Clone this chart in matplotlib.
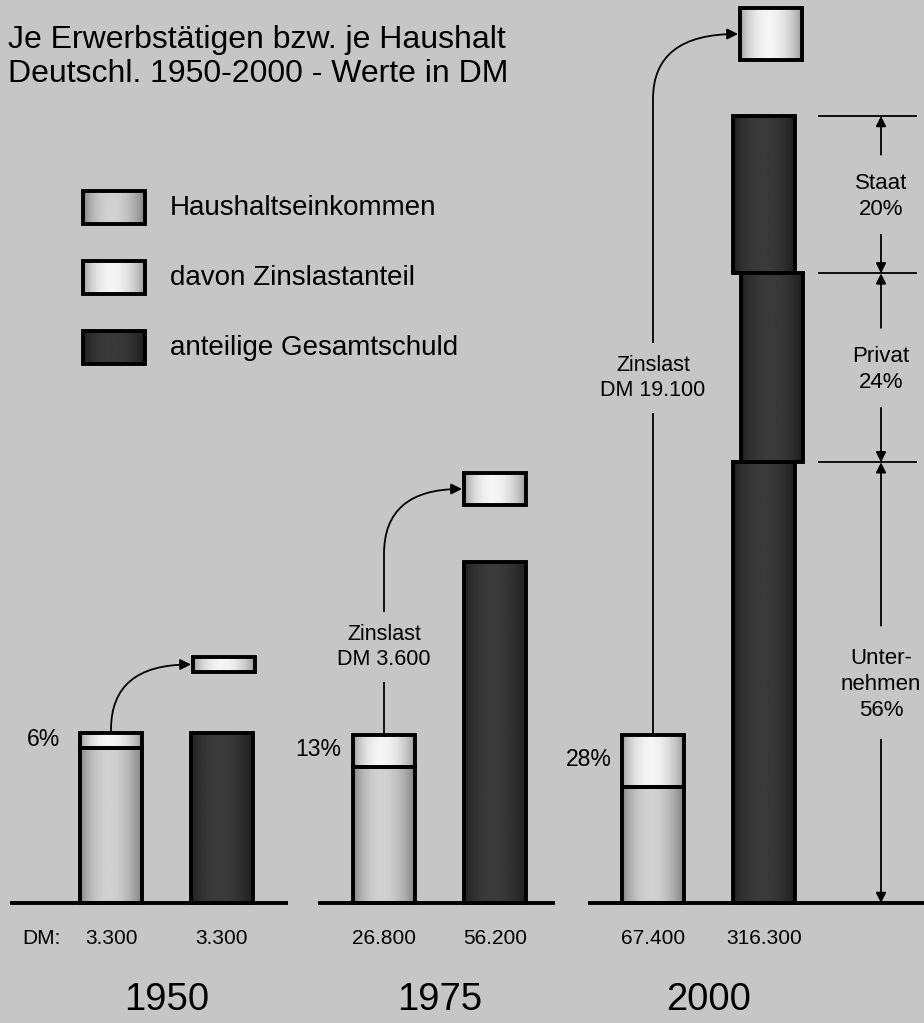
import matplotlib.pyplot as plt
import numpy as np
from matplotlib.patches import Rectangle, FancyArrowPatch
from matplotlib.path import Path

plt.rcParams['font.family'] = ['Liberation Sans', 'DejaVu Sans']

# data as printed on the chart
years = ['1950', '1975', '2000']
income_dm = ['3.300', '26.800', '67.400']
debt_dm = ['3.300', '56.200', '316.300']
interest_pct = ['6%', '13%', '28%']
interest_dm = [None, '3.600', '19.100']
# drawn heights (schematic, not to scale)
income_h = [170, 168, 168]
interest_h = [15, 32, 52]
debt_h = [170, 341, 787]
# split of the 2000 debt, bottom to top
part_names = ['Unter-\nnehmen', 'Privat', 'Staat']
part_share = [56, 24, 20]

BG = '#c6c6c6'
LW = 2.8

fig = plt.figure(figsize=(9.24, 10.23), dpi=100, facecolor=BG)
ax = fig.add_axes([0, 0, 1, 1])
ax.set_facecolor(BG)
ax.axis('off')


def shade(patch, lo, hi, z):
    x0, y0 = patch.get_x(), patch.get_y()
    w, h = patch.get_width(), patch.get_height()
    t = np.linspace(0, 1, 80)
    prof = np.sin(np.pi * t ** 0.9) ** 0.7
    img = (lo + (hi - lo) * prof)[None, :]
    im = ax.imshow(img, cmap='gray', vmin=0, vmax=1, aspect='auto',
                   extent=(x0, x0 + w, y0, y0 + h), zorder=z,
                   interpolation='bilinear')
    im.set_clip_path(patch)


INC = (0.48, 0.82)
ZIN = (0.58, 0.96)
DEBT = (0.11, 0.23)

inc_x = np.array([111, 384, 653])
debt_x = inc_x + 111
base_l = [10, 318, 588]
base_r = [288, 555, 924]
zins_y = [None, 256, 525]
pct_gap = [20, 12, 10]
box_gap = [61, 57, 56]
box_shift = [2, 0, 7]
W = 62

for i in range(3):
    ax.plot([base_l[i], base_r[i]], [0, 0], color='k', lw=LW, zorder=6,
            solid_capstyle='butt')

    # household income with the interest share on top
    low = ax.bar(inc_x[i], income_h[i] - interest_h[i], width=W, bottom=0,
                 facecolor='none', edgecolor='k', lw=LW, zorder=5)[0]
    top = ax.bar(inc_x[i], interest_h[i], width=W,
                 bottom=income_h[i] - interest_h[i],
                 facecolor='none', edgecolor='k', lw=LW, zorder=5)[0]
    shade(low, *INC, 3)
    shade(top, *ZIN, 3)
    ax.text(inc_x[i] - W / 2 - pct_gap[i],
            income_h[i] - interest_h[i] / 2 + 1,
            interest_pct[i], ha='right', va='center', fontsize=16.5)

    # total debt
    if i < 2:
        b = ax.bar(debt_x[i], debt_h[i], width=W, bottom=0, facecolor='none',
                   edgecolor='k', lw=LW, zorder=5)[0]
        shade(b, *DEBT, 3)
    else:
        seg = np.array(part_share) / 100 * debt_h[i]
        bottoms = np.concatenate([[0], np.cumsum(seg)[:-1]])
        offs = [0, 8, 0]
        for s, bt, o in zip(seg, bottoms, offs):
            b = ax.bar(debt_x[i] + o, s, width=W, bottom=bt, facecolor='none',
                       edgecolor='k', lw=LW, zorder=5)[0]
            shade(b, *DEBT, 3)

    # the interest block moved above the debt bar
    by = debt_h[i] + box_gap[i]
    bx = debt_x[i] + box_shift[i]
    box = Rectangle((bx - W / 2, by), W, interest_h[i], facecolor='none',
                    edgecolor='k', lw=LW, zorder=5)
    ax.add_patch(box)
    shade(box, *ZIN, 3)

    # connector from income bar to the moved block
    ymid = by + interest_h[i] / 2
    turn = ymid - 65
    verts = [(inc_x[i], income_h[i]), (inc_x[i], turn), (inc_x[i], ymid),
             (bx - W / 2 - 2, ymid)]
    codes = [Path.MOVETO, Path.LINETO, Path.CURVE3, Path.CURVE3]
    ax.add_patch(FancyArrowPatch(path=Path(verts, codes), arrowstyle='-|>',
                                 mutation_scale=16, lw=1.3, color='k',
                                 zorder=4))
    if zins_y[i] is not None:
        ax.text(inc_x[i], zins_y[i], 'Zinslast\nDM ' + interest_dm[i],
                ha='center', va='center', fontsize=15.5, linespacing=1.25,
                zorder=7, bbox=dict(boxstyle='square,pad=0.55', fc=BG,
                                    ec='none'))

    ax.text(inc_x[i], -35, income_dm[i], ha='center', va='center',
            fontsize=15)
    ax.text(debt_x[i], -35, debt_dm[i], ha='center', va='center',
            fontsize=15)
    ax.text((inc_x[i] + debt_x[i]) / 2, -97, years[i], ha='center',
            va='center', fontsize=27.5)

ax.text(22, -35, 'DM:', ha='left', va='center', fontsize=15)

# dimension marks for the split of the 2000 debt
seg = np.array(part_share) / 100 * debt_h[2]
edges = np.concatenate([[0], np.cumsum(seg)])
dim_x = 881
for k in range(1, 4):
    ax.plot([dim_x - 62, dim_x + 35], [edges[k], edges[k]], color='k',
            lw=1.3, zorder=5)
for k, name in enumerate(part_names):
    mid = (edges[k] + edges[k + 1]) / 2
    label = name + '\n' + str(part_share[k]) + '%'
    nl = label.count('\n') + 1
    ax.text(dim_x, mid - 2, label, ha='center', va='center', fontsize=16,
            linespacing=1.3)
    gap = 6 + 17 * nl
    for tgt, src in ((edges[k + 1], mid + gap), (edges[k], mid - gap)):
        ax.annotate('', xy=(dim_x, tgt), xytext=(dim_x, src),
                    arrowprops=dict(arrowstyle='-|>', lw=1.3, color='k',
                                    mutation_scale=15, shrinkA=0, shrinkB=0))

# legend
leg_names = ['Haushaltseinkommen', 'davon Zinslastanteil',
             'anteilige Gesamtschuld']
leg_cols = [INC, ZIN, DEBT]
for k, (name, col) in enumerate(zip(leg_names, leg_cols)):
    yc = 695 - 70 * k
    r = Rectangle((83, yc - 16), 62, 33, facecolor='none', edgecolor='k',
                  lw=LW, zorder=5)
    ax.add_patch(r)
    shade(r, *col, 3)
    ax.text(170, yc, name, ha='left', va='center', fontsize=20)

ax.text(8, 855, 'Je Erwerbstätigen bzw. je Haushalt', fontsize=23,
        va='baseline')
ax.text(8, 821, 'Deutschl. 1950-2000 - Werte in DM', fontsize=23,
        va='baseline')

ax.set_xlim(0, 924)
ax.set_ylim(-120, 903)
fig.savefig('out.png', dpi=100, facecolor=BG)
